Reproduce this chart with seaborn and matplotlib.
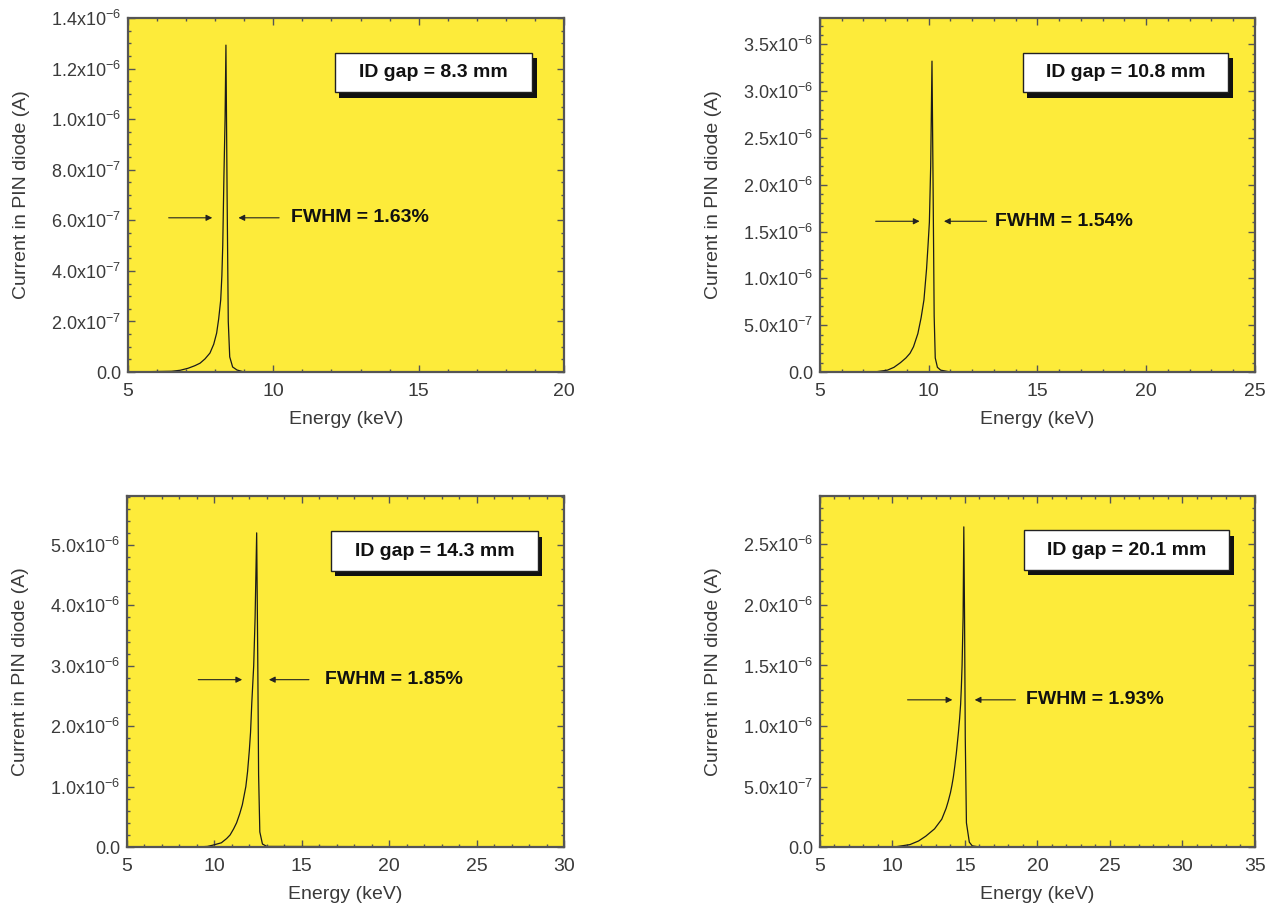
import numpy as np
import matplotlib
matplotlib.use("Agg")
import matplotlib.pyplot as plt
import seaborn as sns
from matplotlib.ticker import MultipleLocator, FuncFormatter
from matplotlib.patches import Rectangle

# 데이터 (그림에서 읽은 값, 전류 단위: 1e-6 A)
gap_labels = ["ID gap = 8.3 mm", "ID gap = 10.8 mm", "ID gap = 14.3 mm", "ID gap = 20.1 mm"]
fwhm_labels = ["FWHM = 1.63%", "FWHM = 1.54%", "FWHM = 1.85%", "FWHM = 1.93%"]

energy_83 = [5.0, 6.5, 6.8, 7.07, 7.3, 7.48, 7.65, 7.82, 7.95, 8.05, 8.12, 8.19, 8.23, 8.26, 8.30,
             8.34, 8.37, 8.41, 8.45, 8.5, 8.6, 8.75, 9.0, 20.0]
current_83 = [0.0, 0.003, 0.007, 0.015, 0.025, 0.035, 0.052, 0.075, 0.11, 0.154, 0.21, 0.285, 0.38, 0.5, 0.77,
              1.0, 1.293, 0.7, 0.2, 0.06, 0.02, 0.008, 0.0, 0.0]

energy_108 = [5.0, 7.5, 8.1, 8.4, 8.7, 8.95, 9.14, 9.3, 9.5, 9.65, 9.78, 9.9, 9.97, 10.03, 10.09,
              10.15, 10.2, 10.25, 10.3, 10.4, 10.55, 11.0, 25.0]
current_108 = [0.0, 0.0, 0.02, 0.05, 0.10, 0.15, 0.20, 0.27, 0.41, 0.58, 0.77, 1.10, 1.36, 1.6, 2.2,
               3.32, 2.0, 0.6, 0.15, 0.05, 0.02, 0.0, 0.0]

energy_143 = [5.0, 9.0, 9.6, 9.9, 10.4, 10.7, 10.9, 11.1, 11.27, 11.45, 11.6, 11.8, 11.9, 12.0, 12.07,
              12.14, 12.25, 12.33, 12.42, 12.48, 12.53, 12.6, 12.75, 13.0, 30.0]
current_143 = [0.0, 0.0, 0.01, 0.03, 0.07, 0.14, 0.2, 0.3, 0.4, 0.55, 0.7, 1.0, 1.25, 1.6, 1.9,
               2.38, 3.0, 3.8, 5.2, 3.2, 1.2, 0.25, 0.05, 0.01, 0.0]

energy_201 = [5.0, 10.1, 11.2, 11.8, 12.3, 12.6, 12.9, 13.15, 13.4, 13.7, 13.85, 14.0, 14.1, 14.2, 14.3,
              14.4, 14.55, 14.63, 14.7, 14.75, 14.8, 14.87, 14.92, 14.97, 15.02, 15.1, 15.3, 15.5, 16.0, 35.0]
current_201 = [0.0, 0.0, 0.02, 0.05, 0.09, 0.12, 0.15, 0.19, 0.23, 0.32, 0.38, 0.45, 0.51, 0.58, 0.67,
               0.77, 0.95, 1.06, 1.18, 1.32, 1.5, 1.9, 2.645, 1.9, 0.9, 0.2, 0.04, 0.01, 0.0, 0.0]

energies = [energy_83, energy_108, energy_143, energy_201]
currents = [current_83, current_108, current_143, current_201]

# 축 범위 / 눈금
x_max = [20, 25, 30, 35]
y_max = [1.4e-6, 3.78e-6, 5.81e-6, 2.9e-6]
y_major = [2e-7, 5e-7, 1e-6, 5e-7]
y_minor = [5e-8, 1e-7, 2e-7, 1e-7]

# FWHM 화살표 위치: (높이, 왼쪽 시작, 왼쪽 끝, 오른쪽 시작, 오른쪽 끝, 글자 x)
fwhm_pos = [
    (0.61e-6, 6.4, 7.9, 10.2, 8.8, 10.6),
    (1.61e-6, 7.56, 9.58, 12.66, 10.7, 13.04),
    (2.77e-6, 9.08, 11.59, 15.41, 13.12, 16.3),
    (1.216e-6, 11.04, 14.13, 18.48, 15.67, 19.2),
]
box_pos = [(0.475, 0.79, 0.452), (0.467, 0.79, 0.472), (0.467, 0.787, 0.473), (0.468, 0.79, 0.473)]

axes_rects = [
    [0.0999, 0.5943, 0.3404, 0.386],
    [0.6401, 0.5943, 0.3396, 0.386],
    [0.0991, 0.0763, 0.3412, 0.3828],
    [0.6401, 0.0763, 0.3396, 0.3828],
]

sns.set_style("ticks")
plt.rcParams['font.family'] = ['Liberation Sans', 'DejaVu Sans']
plt.rcParams['mathtext.default'] = 'regular'

YELLOW = "#FDEB3A"
GRAY = "#555555"
TEXT = "#3a3a3a"


def sci_label(v, pos):
    if abs(v) < 1e-12:
        return "0.0"
    exp = int(np.floor(np.log10(abs(v)) + 1e-6))
    man = v / 10.0 ** exp
    return f"{man:.1f}x10$^{{{exp}}}$"


fig = plt.figure(figsize=(12.81, 9.17), dpi=100)

for i in range(4):
    ax = fig.add_axes(axes_rects[i])
    ax.set_facecolor(YELLOW)
    sns.lineplot(x=np.array(energies[i]), y=np.array(currents[i]) * 1e-6, ax=ax,
                 color="#1a1a1a", lw=0.9, estimator=None)
    ax.set_xlim(5, x_max[i])
    ax.set_ylim(0, y_max[i])
    ax.xaxis.set_major_locator(MultipleLocator(5))
    ax.xaxis.set_minor_locator(MultipleLocator(1))
    ax.yaxis.set_major_locator(MultipleLocator(y_major[i]))
    ax.yaxis.set_minor_locator(MultipleLocator(y_minor[i]))
    ax.yaxis.set_major_formatter(FuncFormatter(sci_label))
    ax.tick_params(which="both", direction="in", top=True, right=True, color=GRAY,
                   labelcolor=TEXT, width=1.0)
    ax.tick_params(axis="x", labelsize=14, pad=8)
    ax.tick_params(axis="y", labelsize=13, pad=5)
    ax.tick_params(which="major", length=5)
    ax.tick_params(which="minor", length=2.5)
    for sp in ax.spines.values():
        sp.set_color(GRAY)
        sp.set_linewidth(1.6)
    ax.set_xlabel("Energy (keV)", fontsize=14, color=TEXT, labelpad=8)
    ax.set_ylabel("Current in PIN diode (A)", fontsize=14, color=TEXT, labelpad=15)

    # FWHM 화살표
    lvl, l0, l1, r0, r1, tx = fwhm_pos[i]
    arrow = dict(arrowstyle="-|>", color="#222222", lw=0.8, mutation_scale=9, shrinkA=0, shrinkB=0)
    ax.annotate("", xy=(l1, lvl), xytext=(l0, lvl), arrowprops=arrow)
    ax.annotate("", xy=(r1, lvl), xytext=(r0, lvl), arrowprops=arrow)
    ax.text(tx, lvl, fwhm_labels[i], fontsize=14, fontweight="bold", color="#111111",
            ha="left", va="center")

    # ID gap 상자 (그림자 포함)
    bx, by, bw = box_pos[i]
    bh = 0.112
    ax.add_patch(Rectangle((bx + 0.010, by - 0.016), bw, bh, transform=ax.transAxes,
                           facecolor="#111111", edgecolor="none", zorder=5))
    ax.add_patch(Rectangle((bx, by), bw, bh, transform=ax.transAxes,
                           facecolor="white", edgecolor="#222222", lw=1.0, zorder=6))
    ax.text(bx + bw / 2, by + bh / 2, gap_labels[i], transform=ax.transAxes, fontsize=14,
            fontweight="bold", color="#111111", ha="center", va="center", zorder=7)

fig.savefig("out.png", dpi=100)
plt.close(fig)
